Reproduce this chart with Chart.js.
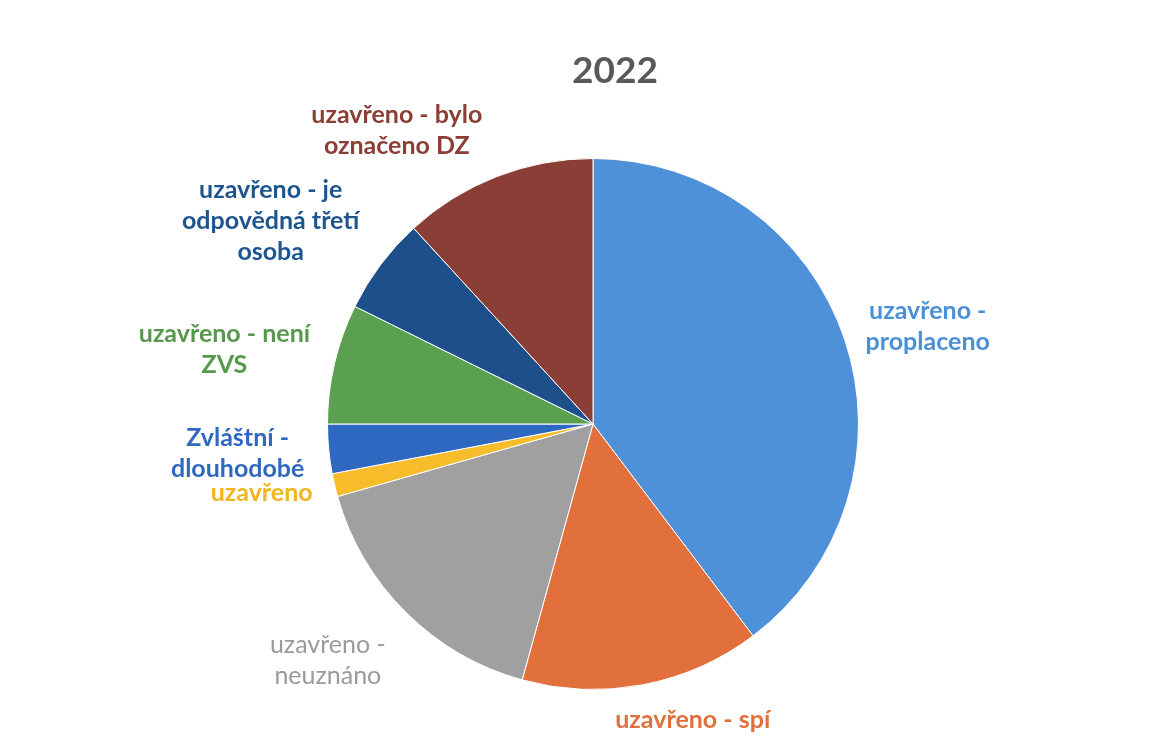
<!DOCTYPE html>
<html>
<head>
<meta charset="utf-8">
<script src="https://cdn.jsdelivr.net/npm/chart.js@4"></script>
<style>
html, body { margin: 0; padding: 0; background: #fff; }
</style>
</head>
<body>
<canvas id="pieChart" width="1167" height="756"></canvas>
<script>
// Data
const chartTitle = '2022';
const categories = [
    ['uzavřeno -', 'proplaceno'],
    ['uzavřeno - spí'],
    ['uzavřeno -', 'neuznáno'],
    ['uzavřeno'],
    ['Zvláštní -', 'dlouhodobé'],
    ['uzavřeno - není', 'ZVS'],
    ['uzavřeno - je', 'odpovědná třetí', 'osoba'],
    ['uzavřeno - bylo', 'označeno DZ']
];
const shares = [39.7, 14.6, 16.3, 1.4, 3.0, 7.3, 5.9, 11.8];
const sliceColors = ['#4f91d9', '#e2703d', '#a0a0a0', '#f6bc2a', '#2f68c0', '#5b9f50', '#1d4f8a', '#8b3e35'];
const textColors  = ['#4a90d8', '#e0703c', '#9a9a9a', '#f2b51e', '#2f68c0', '#56984c', '#1f558f', '#8b3e35'];

// label placement, relative to the middle of each slice's outer edge
const labelOffsets = [[83, -13], [50, 35], [-78, 48], [-73, 8], [-91, 4], [-110, -14], [-110, -44], [-100, -46]];
const labelBold = [true, true, false, true, true, true, true, true];

const outsideLabels = {
    id: 'outsideLabels',
    afterDatasetsDraw(chart) {
        const ctx = chart.ctx;
        const meta = chart.getDatasetMeta(0);
        ctx.save();
        ctx.textAlign = 'center';
        ctx.textBaseline = 'middle';
        meta.data.forEach((arc, i) => {
            const p = arc.getProps(['x', 'y', 'startAngle', 'endAngle', 'outerRadius'], true);
            const mid = (p.startAngle + p.endAngle) / 2;
            const ex = p.x + Math.cos(mid) * p.outerRadius;
            const ey = p.y + Math.sin(mid) * p.outerRadius;
            const cx = ex + labelOffsets[i][0];
            const cy = ey + labelOffsets[i][1];
            const lines = chart.data.labels[i];
            const lh = 31;
            const y0 = cy - (lines.length - 1) * lh / 2;
            ctx.font = (labelBold[i] ? 'bold ' : '') + '25px Lato';
            ctx.fillStyle = textColors[i];
            lines.forEach((t, k) => ctx.fillText(t, cx, y0 + k * lh));
        });
        // title
        const area = chart.chartArea;
        ctx.font = 'bold 37px Lato';
        ctx.fillStyle = '#595959';
        ctx.fillText(chartTitle, (area.left + area.right) / 2 + 22, 71);
        ctx.restore();
    }
};

const ctx = document.getElementById('pieChart').getContext('2d');
const pieChart = new Chart(ctx, {
    type: 'pie',
    data: {
        labels: categories,
        datasets: [{
            data: shares,
            backgroundColor: sliceColors,
            borderColor: '#ffffff',
            borderWidth: 1
        }]
    },
    options: {
        responsive: false,
        animation: false,
        devicePixelRatio: 1,
        layout: {
            padding: { top: 158, bottom: 66, left: 19, right: 0 }
        },
        plugins: {
            legend: { display: false },
            tooltip: { enabled: false },
            title: { display: false }
        }
    },
    plugins: [outsideLabels]
});
</script>
</body>
</html>
